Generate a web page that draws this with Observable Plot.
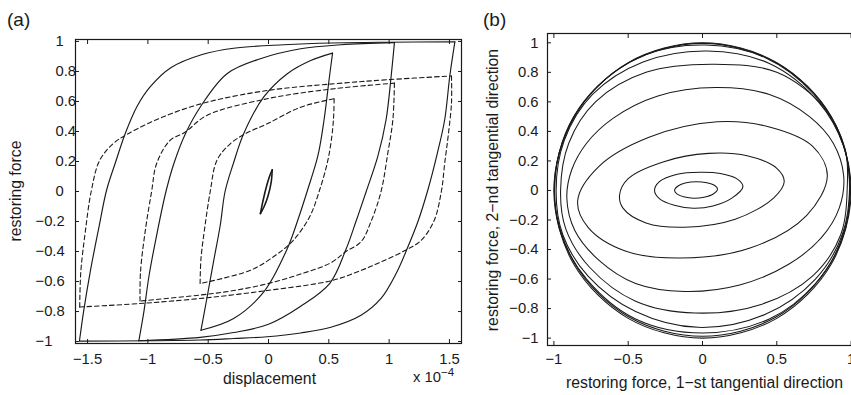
<!DOCTYPE html>
<html><head><meta charset="utf-8">
<script src="https://cdn.jsdelivr.net/npm/d3@7"></script>
<script src="https://cdn.jsdelivr.net/npm/@observablehq/plot@0.6"></script>
<style>
html,body{margin:0;padding:0;background:#fff;}
#root{position:relative;width:851px;height:395px;overflow:hidden;font-family:"Liberation Sans",Arial,sans-serif;color:#1a1a1a;}
.abs{position:absolute;white-space:nowrap;line-height:1;}
</style></head><body><div id="root"></div>
<script>
// ---------- panel (a) tick values ----------
const xTicksA = [-1.5, -1, -0.5, 0, 0.5, 1, 1.5];
const yTicksA = [-1, -0.8, -0.6, -0.4, -0.2, 0, 0.2, 0.4, 0.6, 0.8, 1];
// ---------- panel (b) tick values ----------
const xTicksB = [-1, -0.5, 0, 0.5, 1];
const yTicksB = [-1, -0.8, -0.6, -0.4, -0.2, 0, 0.2, 0.4, 0.6, 0.8, 1];

// ---------- panel (a): solid hysteresis loops (displacement x1e-4, force) ----------
const solidA_up = [[-1.567,-0.995],[-1.533,-0.80],[-1.478,-0.535],[-1.408,-0.247],[-1.342,0.01],[-1.27,0.19],[-1.186,0.39],[-1.09,0.567],[-0.978,0.70],[-0.81,0.825],[-0.55,0.913],[-0.289,0.955],[0.128,0.978],[0.517,0.99],[1.0,0.995],[1.545,0.997]];
const solidA_down = [[1.545,0.997],[1.503,0.77],[1.461,0.48],[1.4,0.256],[1.321,0.01],[1.239,-0.2],[1.15,-0.38],[1.058,-0.547],[0.933,-0.713],[0.767,-0.825],[0.517,-0.905],[0.267,-0.943],[-0.011,-0.968],[-0.289,-0.98],[-0.567,-0.99],[-1.0,-0.995],[-1.567,-0.997]];
const solidB_up = [[-1.075,-0.995],[-1.033,-0.80],[-0.99,-0.56],[-0.922,-0.27],[-0.85,0.0],[-0.783,0.19],[-0.686,0.39],[-0.56,0.57],[-0.344,0.785],[-0.067,0.885],[0.267,0.951],[0.6,0.978],[1.044,0.992]];
const solidB_down = [[1.044,0.992],[1.017,0.77],[0.975,0.48],[0.906,0.234],[0.81,0.0],[0.725,-0.2],[0.64,-0.39],[0.51,-0.61],[0.267,-0.765],[0.0,-0.885],[-0.289,-0.94],[-0.567,-0.972],[-1.075,-0.995]];
const solidC_up = [[-0.56,-0.925],[-0.511,-0.713],[-0.456,-0.469],[-0.4,-0.225],[-0.36,0.0],[-0.29,0.19],[-0.206,0.385],[-0.039,0.63],[0.156,0.785],[0.35,0.873],[0.531,0.922]];
const solidC_down = [[0.531,0.922],[0.503,0.75],[0.461,0.48],[0.41,0.24],[0.32,0.0],[0.239,-0.2],[0.156,-0.38],[-0.039,-0.669],[-0.289,-0.847],[-0.56,-0.925]];
const solidD_up = [[-0.067,-0.147],[-0.045,-0.06],[-0.018,0.03],[0.008,0.1],[0.031,0.145]];
const solidD_down = [[0.031,0.145],[0.022,0.06],[-0.004,-0.03],[-0.036,-0.1],[-0.067,-0.147]];

// ---------- panel (a): dashed hysteresis loops ----------
const dashE_up = [[-1.565,-0.77],[-1.556,-0.535],[-1.519,-0.27],[-1.47,0.0],[-1.4,0.207],[-1.289,0.318],[-1.164,0.385],[-0.844,0.507],[-0.511,0.595],[-0.011,0.673],[0.544,0.718],[0.989,0.745],[1.517,0.77]];
const dashE_down = [[1.517,0.77],[1.517,0.59],[1.489,0.367],[1.461,0.19],[1.433,0.0],[1.37,-0.2],[1.26,-0.33],[1.14,-0.39],[0.933,-0.469],[0.739,-0.535],[0.517,-0.595],[-0.011,-0.66],[-0.567,-0.713],[-1.075,-0.747],[-1.565,-0.77]];
const dashF_up = [[-1.065,-0.73],[-1.061,-0.535],[-1.019,-0.247],[-0.969,0.0],[-0.928,0.185],[-0.817,0.34],[-0.692,0.395],[-0.511,0.507],[-0.011,0.618],[0.544,0.685],[1.044,0.722]];
const dashF_down = [[1.044,0.722],[1.031,0.478],[0.989,0.255],[0.933,0.0],[0.85,-0.2],[0.767,-0.335],[0.642,-0.40],[0.517,-0.475],[0.267,-0.55],[-0.011,-0.615],[-0.289,-0.66],[-0.567,-0.69],[-1.065,-0.73]];
const dashG_up = [[-0.567,-0.613],[-0.56,-0.45],[-0.53,-0.25],[-0.483,0.0],[-0.428,0.207],[-0.317,0.318],[-0.192,0.385],[-0.011,0.451],[0.267,0.562],[0.544,0.618]];
const dashG_down = [[0.544,0.618],[0.54,0.5],[0.525,0.367],[0.49,0.2],[0.42,0.0],[0.34,-0.17],[0.2,-0.33],[0.05,-0.43],[-0.15,-0.525],[-0.567,-0.613]];

// ---------- panel (b): closed force trajectories ----------
const orbit1 = [[-0.188,0.0],[-0.165,0.03],[-0.11,0.052],[-0.04,0.059],[0.03,0.052],[0.08,0.035],[0.101,0.01],[0.075,-0.022],[0.01,-0.046],[-0.06,-0.053],[-0.12,-0.045],[-0.17,-0.025]];
const orbit2 = [[-0.323,0.0],[-0.29,0.06],[-0.17,0.11],[-0.015,0.123],[0.12,0.115],[0.23,0.08],[0.272,0.026],[0.2,-0.05],[0.07,-0.105],[-0.061,-0.12],[-0.19,-0.1],[-0.29,-0.055]];
const orbit3 = [[-0.558,-0.03],[-0.5,0.08],[-0.26,0.195],[0.04,0.251],[0.3,0.235],[0.5,0.15],[0.55,0.06],[0.48,-0.05],[0.22,-0.195],[-0.12,-0.249],[-0.38,-0.22],[-0.535,-0.12]];
const orbit4 = [[-0.84,-0.07],[-0.7,0.16],[-0.36,0.36],[0.1,0.465],[0.45,0.43],[0.74,0.3],[0.84,0.1],[0.7,-0.17],[0.32,-0.39],[-0.15,-0.458],[-0.52,-0.41],[-0.77,-0.25]];
const orbit5 = [[-0.913,-0.05],[-0.88,0.14],[-0.78,0.32],[-0.6,0.49],[-0.3,0.64],[0.09,0.697],[0.45,0.65],[0.72,0.5],[0.88,0.32],[0.95,0.1],[0.92,-0.12],[0.8,-0.32],[0.58,-0.5],[0.25,-0.64],[-0.12,-0.684],[-0.45,-0.63],[-0.7,-0.47],[-0.86,-0.27]];
const orbit6 = [[-0.955,0.0],[-0.9,0.32],[-0.72,0.6],[-0.38,0.8],[0.08,0.855],[0.5,0.8],[0.82,0.56],[0.96,0.28],[0.975,0.05],[0.93,-0.3],[0.74,-0.58],[0.4,-0.77],[-0.05,-0.83],[-0.45,-0.75],[-0.76,-0.52],[-0.92,-0.26]];
const orbit7 = [[-0.985,0.0],[-0.93,0.34],[-0.74,0.65],[-0.4,0.87],[0.03,0.945],[0.45,0.86],[0.78,0.6],[0.95,0.3],[0.99,0.05],[0.94,-0.3],[0.76,-0.6],[0.42,-0.84],[-0.03,-0.927],[-0.45,-0.82],[-0.77,-0.58],[-0.94,-0.3]];
const orbit8 = [[-0.995,0.0],[-0.94,0.33],[-0.73,0.68],[-0.38,0.92],[0.02,0.985],[0.42,0.9],[0.75,0.65],[0.95,0.3],[0.99,0.0],[0.95,-0.3],[0.76,-0.63],[0.45,-0.87],[0.0,-0.965],[-0.45,-0.87],[-0.78,-0.6],[-0.95,-0.3]];
const orbit9 = [[-0.998,0.0],[-0.865,0.5],[-0.5,0.863],[0.0,0.996],[0.5,0.863],[0.865,0.5],[0.996,0.0],[0.86,-0.495],[0.495,-0.857],[0.0,-0.988],[-0.495,-0.857],[-0.86,-0.495]];
const orbit10 = [[-1.0,0.0],[-0.866,0.5],[-0.5,0.866],[0.0,1.0],[0.5,0.866],[0.866,0.5],[1.0,0.0],[0.866,-0.5],[0.5,-0.866],[0.0,-1.0],[-0.5,-0.866],[-0.866,-0.5]];

// ---------- helpers ----------
const ink = "#1a1a1a";
const font = '"Liberation Sans", Arial, sans-serif';
const fmt = d => (d < 0 ? "\u2212" : "") + String(Math.abs(d));
const rows = list => list.flatMap(([id, pts]) => pts.map(([x, y]) => ({id, x, y})));

const solidRows = rows([["A1",solidA_up],["A2",solidA_down],["B1",solidB_up],["B2",solidB_down],["C1",solidC_up],["C2",solidC_down]]);
const tinyRows = rows([["D1",solidD_up],["D2",solidD_down]]);
const dashedRows = rows([["E1",dashE_up],["E2",dashE_down],["F1",dashF_up],["F2",dashF_down],["G1",dashG_up],["G2",dashG_down]]);
const orbitRows = rows([["o1",orbit1],["o2",orbit2],["o3",orbit3],["o4",orbit4],["o5",orbit5],["o6",orbit6],["o7",orbit7],["o8",orbit8],["o9",orbit9],["o10",orbit10]]);

const tickFs = 14.8;
function tickAxes(xt, yt) {
  return [
    Plot.axisX(xt, {anchor: "bottom", tickSize: -4, tickFormat: () => null, label: null, stroke: ink}),
    Plot.axisX(xt, {anchor: "top", tickSize: -4, tickFormat: () => null, label: null, stroke: ink}),
    Plot.axisY(yt, {anchor: "left", tickSize: -4, tickFormat: () => null, label: null, stroke: ink}),
    Plot.axisY(yt, {anchor: "right", tickSize: -4, tickFormat: () => null, label: null, stroke: ink})
  ];
}

const plotA = Plot.plot({
  width: 470, height: 395,
  marginLeft: 75, marginRight: 9, marginTop: 39, marginBottom: 52,
  style: {fontFamily: font, fontSize: tickFs + "px", color: ink, background: "transparent", overflow: "visible"},
  x: {domain: [-1.6, 1.6]},
  y: {domain: [-1.013, 1.013]},
  marks: [
    Plot.line(solidRows, {x: "x", y: "y", z: "id", curve: "catmull-rom", stroke: ink, strokeWidth: 1.15}),
    Plot.line(tinyRows, {x: "x", y: "y", z: "id", curve: "catmull-rom", stroke: ink, strokeWidth: 1.6}),
    Plot.line(dashedRows, {x: "x", y: "y", z: "id", curve: "catmull-rom", stroke: ink, strokeWidth: 1.1, strokeDasharray: "4.5,3"}),
    ...tickAxes(xTicksA, yTicksA),
    Plot.text(xTicksA, {x: d => d, text: fmt, frameAnchor: "bottom", lineAnchor: "top", dy: 10, fill: ink, fontSize: tickFs}),
    Plot.text(yTicksA.filter(d => d >= 0), {y: d => d, text: fmt, frameAnchor: "left", textAnchor: "start", dx: -20, fill: ink, fontSize: tickFs}),
    Plot.text(yTicksA.filter(d => d < 0), {y: d => d, text: fmt, frameAnchor: "left", textAnchor: "start", dx: -40, fill: ink, fontSize: tickFs}),
    Plot.frame({stroke: ink, strokeWidth: 1.2})
  ]
});

const plotB = Plot.plot({
  width: 420, height: 395,
  marginLeft: 87, marginRight: 23, marginTop: 33, marginBottom: 50,
  style: {fontFamily: font, fontSize: tickFs + "px", color: ink, background: "transparent", overflow: "visible"},
  x: {domain: [-1.043, 1.043]},
  y: {domain: [-1.05, 1.063]},
  marks: [
    Plot.line(orbitRows, {x: "x", y: "y", z: "id", curve: "catmull-rom-closed", stroke: ink, strokeWidth: 1.05}),
    ...tickAxes(xTicksB, yTicksB),
    Plot.text(xTicksB, {x: d => d, text: fmt, frameAnchor: "bottom", lineAnchor: "top", dy: 8, fill: ink, fontSize: tickFs}),
    Plot.text(yTicksB, {y: d => d, text: fmt, frameAnchor: "left", textAnchor: "end", dx: -9, fill: ink, fontSize: tickFs}),
    Plot.frame({stroke: ink, strokeWidth: 1.2})
  ]
});

const root = document.getElementById("root");
plotA.style.position = "absolute"; plotA.style.left = "0px"; plotA.style.top = "0px";
plotB.style.position = "absolute"; plotB.style.left = "460px"; plotB.style.top = "0px";
root.appendChild(plotA);
root.appendChild(plotB);

function label(text, css) {
  const d = document.createElement("div");
  d.className = "abs";
  d.textContent = text;
  Object.assign(d.style, css);
  root.appendChild(d);
  return d;
}
const labFs = 15.8;
label("(a)", {left: "7px", top: "9.5px", fontSize: "19px"});
label("(b)", {left: "483px", top: "9.5px", fontSize: "19px"});
label("displacement", {left: "269.5px", top: "371px", fontSize: labFs + "px", transform: "translateX(-50%)"});
const sci = label("x 10", {left: "413px", top: "370px", fontSize: tickFs + "px"});
const sup = document.createElement("span");
sup.textContent = "\u22124";
sup.style.fontSize = "11.5px";
sup.style.position = "relative";
sup.style.top = "-6px";
sci.appendChild(sup);
label("restoring force", {left: "15.5px", top: "191px", fontSize: labFs + "px", transform: "translate(-50%,-50%) rotate(-90deg)"});
label("restoring force, 2\u2212nd tangential direction", {left: "493px", top: "190px", fontSize: labFs + "px", transform: "translate(-50%,-50%) rotate(-90deg)"});
label("restoring force, 1\u2212st tangential direction", {left: "704.5px", top: "375px", fontSize: labFs + "px", transform: "translateX(-50%)"});
</script></body></html>
